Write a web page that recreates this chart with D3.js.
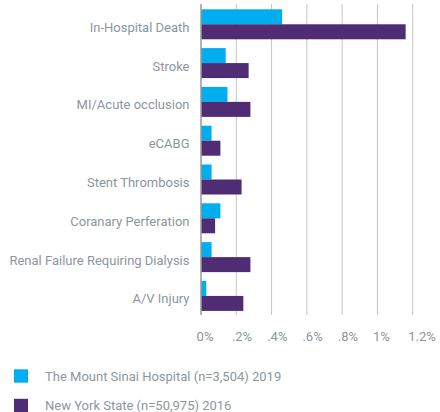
<!DOCTYPE html>
<html>
<head>
<style>
body { margin: 0; background: #fff; }
text { font-family: Roboto, "Liberation Sans", sans-serif; fill: #8d969e; }
</style>
</head>
<body>
<svg width="440" height="412"></svg>
<script src="https://d3js.org/d3.v7.min.js"></script>
<script>

var categories = ["In-Hospital Death", "Stroke", "MI/Acute occlusion", "eCABG", "Stent Thrombosis",
                  "Coranary Perferation", "Renal Failure Requiring Dialysis", "A/V Injury"];
var sinai = [0.46, 0.14, 0.15, 0.06, 0.06, 0.11, 0.06, 0.03];   // The Mount Sinai Hospital 2019
var nys = [1.16, 0.27, 0.28, 0.11, 0.23, 0.08, 0.28, 0.24];     // New York State 2016
var tickValues = [0, 0.2, 0.4, 0.6, 0.8, 1, 1.2];
var tickLabels = ["0%", ".2%", ".4%", ".6%", ".8%", "1%", "1.2%"];
var seriesNames = ["The Mount Sinai Hospital (n=3,504) 2019", "New York State (n=50,975) 2016"];
var colors = ["#00aeef", "#4f2c74"];

var svg = d3.select("svg");

var x = d3.scaleLinear().domain([0, 1.2]).range([201, 412.7]);

var y = d3.scaleBand()
    .domain(categories)
    .range([4.9, 315.3])
    .paddingInner(0.227)
    .paddingOuter(0.113);

var ySub = d3.scaleBand().domain([0, 1]).range([0, y.bandwidth()]);

// gridlines
svg.append("g")
  .selectAll("line")
  .data(tickValues.slice(1))
  .enter().append("line")
    .attr("x1", function(d) { return x(d); })
    .attr("x2", function(d) { return x(d); })
    .attr("y1", 4)
    .attr("y2", 315)
    .attr("stroke", "#c4c4c4")
    .attr("stroke-width", 1);

var rows = categories.map(function(c, i) { return {cat: c, vals: [sinai[i], nys[i]]}; });

var group = svg.append("g")
  .selectAll("g")
  .data(rows)
  .enter().append("g")
    .attr("transform", function(d) { return "translate(0," + y(d.cat) + ")"; });

group.selectAll("rect")
  .data(function(d) { return d.vals; })
  .enter().append("rect")
    .attr("x", x(0))
    .attr("y", function(d, i) { return ySub(i); })
    .attr("width", function(d) { return x(d) - x(0); })
    .attr("height", ySub.bandwidth())
    .attr("fill", function(d, i) { return colors[i]; });

// zero axis
svg.append("line")
    .attr("x1", x(0)).attr("x2", x(0))
    .attr("y1", 4).attr("y2", 315)
    .attr("stroke", "#999")
    .attr("stroke-width", 1.5);

// category labels
svg.append("g")
  .selectAll("text")
  .data(categories)
  .enter().append("text")
    .attr("x", 189.5)
    .attr("y", function(d) { return y(d) + y.bandwidth() / 2 + 3; })
    .attr("dy", "0.35em")
    .attr("text-anchor", "end")
    .style("font-size", "13px")
    .text(function(d) { return d; });

// tick labels
svg.append("g")
  .selectAll("text")
  .data(tickValues)
  .enter().append("text")
    .attr("x", function(d) { return x(d) - 4.4; })
    .attr("y", 336)
    .attr("dy", "0.35em")
    .style("font-size", "13px")
    .text(function(d, i) { return tickLabels[i]; });

// legend
var legend = svg.append("g")
  .selectAll("g")
  .data(seriesNames)
  .enter().append("g")
    .attr("transform", function(d, i) { return "translate(14," + (369.3 + i * 29.5) + ")"; });

legend.append("rect")
    .attr("width", 14)
    .attr("height", 13.4)
    .attr("fill", function(d, i) { return colors[i]; });

legend.append("text")
    .attr("x", 31)
    .attr("y", 6.7)
    .attr("dy", "0.35em")
    .style("font-size", "13px")
    .text(function(d) { return d; });

</script>
</body>
</html>
